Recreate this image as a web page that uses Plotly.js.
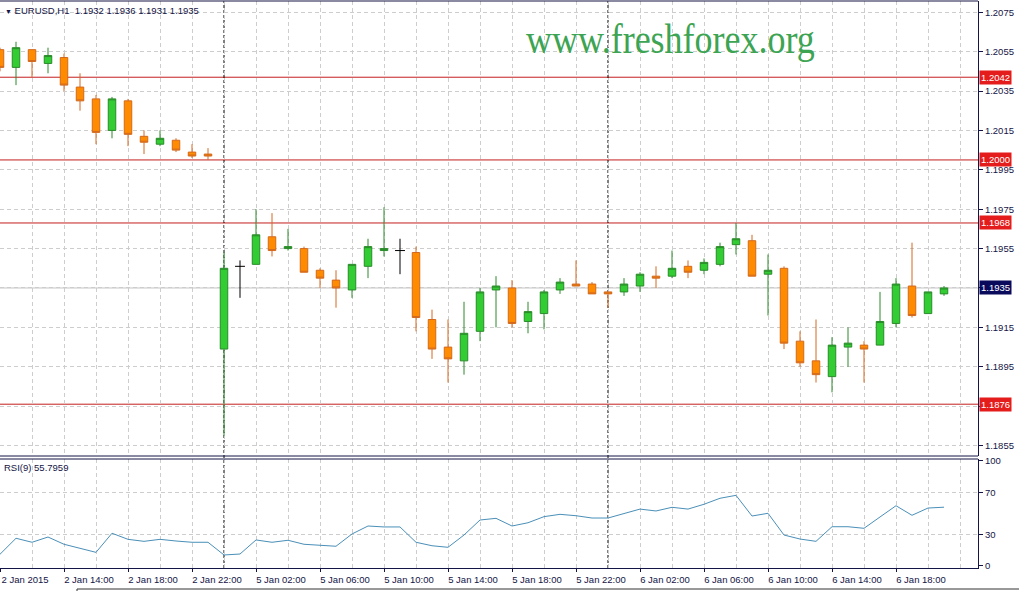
<!DOCTYPE html>
<html><head><meta charset="utf-8">
<script src="https://cdn.plot.ly/plotly-3.0.1.min.js"></script>
<style>html,body{margin:0;padding:0;background:#fff;overflow:hidden}#chart{width:1019px;height:591px}</style>
</head><body><div id="chart"></div>
<script>
const symbol = 'EURUSD,H1';
const times = [
 '2015-01-02 10:00','2015-01-02 11:00','2015-01-02 12:00','2015-01-02 13:00','2015-01-02 14:00','2015-01-02 15:00','2015-01-02 16:00',
 '2015-01-02 17:00','2015-01-02 18:00','2015-01-02 19:00','2015-01-02 20:00','2015-01-02 21:00','2015-01-02 22:00','2015-01-02 23:00',
 '2015-01-05 00:00','2015-01-05 01:00','2015-01-05 02:00','2015-01-05 03:00','2015-01-05 04:00','2015-01-05 05:00','2015-01-05 06:00',
 '2015-01-05 07:00','2015-01-05 08:00','2015-01-05 09:00','2015-01-05 10:00','2015-01-05 11:00','2015-01-05 12:00','2015-01-05 13:00',
 '2015-01-05 14:00','2015-01-05 15:00','2015-01-05 16:00','2015-01-05 17:00','2015-01-05 18:00','2015-01-05 19:00','2015-01-05 20:00',
 '2015-01-05 21:00','2015-01-05 22:00','2015-01-05 23:00',
 '2015-01-06 00:00','2015-01-06 01:00','2015-01-06 02:00','2015-01-06 03:00','2015-01-06 04:00','2015-01-06 05:00','2015-01-06 06:00',
 '2015-01-06 07:00','2015-01-06 08:00','2015-01-06 09:00','2015-01-06 10:00','2015-01-06 11:00','2015-01-06 12:00','2015-01-06 13:00',
 '2015-01-06 14:00','2015-01-06 15:00','2015-01-06 16:00','2015-01-06 17:00','2015-01-06 18:00','2015-01-06 19:00','2015-01-06 20:00',
 '2015-01-06 21:00'];
const open = [1.2056,1.2047,1.2056,1.2049,1.2052,1.2037,1.2031,1.2015,1.2030,1.2012,1.2008,1.2010,1.2004,1.2003,
 1.1904,1.1946,1.1947,1.1961,1.1955,1.1955,1.1944,1.1939,1.1934,1.1946,1.1954,1.1954,1.1953,1.1919,1.1905,1.1898,1.1913,1.1934,1.1935,1.1918,1.1922,1.1934,1.1937,1.1937,
 1.1933,1.1933,1.1936,1.1941,1.1941,1.1946,1.1944,1.1947,1.1957,1.1959,1.1942,1.1945,1.1908,1.1898,1.1890,1.1905,1.1906,1.1906,1.1917,1.1936,1.1922,1.1932];
const high = [1.2057,1.2060,1.2056,1.2057,1.2054,1.2044,1.2033,1.2032,1.2031,1.2015,1.2015,1.2011,1.2008,1.2006,
 1.1953,1.1949,1.1975,1.1973,1.1965,1.1956,1.1945,1.1944,1.1947,1.1960,1.1976,1.1960,1.1956,1.1924,1.1919,1.1928,1.1935,1.1941,1.1939,1.1928,1.1934,1.1940,1.1949,1.1938,
 1.1933,1.1940,1.1943,1.1946,1.1954,1.1949,1.1950,1.1958,1.1968,1.1962,1.1952,1.1946,1.1913,1.1919,1.1910,1.1915,1.1908,1.1933,1.1940,1.1958,1.1933,1.1936];
const low = [1.2045,1.2038,1.2042,1.2044,1.2035,1.2025,1.2008,1.2011,1.2007,1.2003,1.2007,1.2004,1.2001,1.2000,
 1.1860,1.1930,1.1947,1.1951,1.1954,1.1943,1.1935,1.1925,1.1930,1.1940,1.1951,1.1942,1.1913,1.1899,1.1887,1.1891,1.1908,1.1915,1.1915,1.1912,1.1914,1.1932,1.1936,1.1932,
 1.1925,1.1931,1.1933,1.1935,1.1940,1.1940,1.1942,1.1946,1.1952,1.1941,1.1921,1.1904,1.1895,1.1887,1.1882,1.1895,1.1887,1.1906,1.1915,1.1920,1.1922,1.1931];
const close = [1.2047,1.2057,1.2050,1.2053,1.2038,1.2030,1.2014,1.2031,1.2013,1.2009,1.2011,1.2005,1.2002,1.2002,
 1.1945,1.1946,1.1962,1.1954,1.1956,1.1943,1.1940,1.1935,1.1947,1.1956,1.1955,1.1954,1.1920,1.1904,1.1899,1.1912,1.1933,1.1936,1.1917,1.1923,1.1933,1.1938,1.1936,1.1932,
 1.1932,1.1937,1.1942,1.1940,1.1945,1.1943,1.1948,1.1956,1.1960,1.1941,1.1944,1.1907,1.1897,1.1891,1.1906,1.1907,1.1904,1.1918,1.1937,1.1921,1.1933,1.1935];
const rsi = [11,26.2,22.4,27.4,20.5,17,12.8,31,25.2,23.3,25.2,23.6,22.4,22.4,
 10.3,11.2,24.6,22.4,24.3,20.5,19.8,18.6,30.3,37.9,37,37,22.4,19.1,17.6,29.3,43.6,45.2,37.9,41,46.8,49,47.7,45.5,
 45.5,50,54,52.2,55.7,54,58.6,64.3,67.1,47.4,50,29.3,25.5,23.3,37.2,37.2,35.7,46.5,57.2,48.1,55,55.7959];
const rsiPeriod = 9;
const levels = [1.2042, 1.2000, 1.1968, 1.1876];
const priceTicks = [1.1855,1.1875,1.1895,1.1915,1.1935,1.1955,1.1975,1.1995,1.2015,1.2035,1.2055,1.2075];
const rsiTicks = [0,30,70,100];
const rsiGrid = [30,70];
const tickTimes = ['2015-01-02 10:00','2015-01-02 14:00','2015-01-02 18:00','2015-01-02 22:00','2015-01-05 02:00','2015-01-05 06:00',
 '2015-01-05 10:00','2015-01-05 14:00','2015-01-05 18:00','2015-01-05 22:00','2015-01-06 02:00','2015-01-06 06:00','2015-01-06 10:00',
 '2015-01-06 14:00','2015-01-06 18:00'];
const tickLabels = ['2 Jan 2015','2 Jan 14:00','2 Jan 18:00','2 Jan 22:00','5 Jan 02:00','5 Jan 06:00','5 Jan 10:00','5 Jan 14:00',
 '5 Jan 18:00','5 Jan 22:00','6 Jan 02:00','6 Jan 06:00','6 Jan 10:00','6 Jan 14:00','6 Jan 18:00'];
const watermark = 'www.freshforex.org';

const idx = times.map((t, i) => i);
const doji = idx.map(i => open[i] === close[i]);
const pick = (arr, keep) => arr.map((v, i) => keep(i) ? v : null);
const notDoji = i => !doji[i], isDoji = i => doji[i];
const last = times.length - 1;
const separators = idx.filter(i => times[i].endsWith('00:00'));
// price-axis labels that sit under a coloured price box are not drawn (as in the terminal)
const boxed = levels.concat([close[last]]);
const hiddenTick = v => boxed.some(b => Math.abs(b - v) < 0.00035);

const NAVY = '#141446', GRID = '#cdcdcd', GDASH = '4px,3px';
const FONT = 'Liberation Sans, Arial, sans-serif';

const candles = {
  type: 'candlestick', x: idx,
  open: pick(open, notDoji), high: pick(high, notDoji), low: pick(low, notDoji), close: pick(close, notDoji),
  increasing: {fillcolor: '#32CD32', line: {color: '#2a8a2a', width: 1}},
  decreasing: {fillcolor: '#FF8C00', line: {color: '#D2691E', width: 1}},
  whiskerwidth: 0, xaxis: 'x', yaxis: 'y', hoverinfo: 'skip'
};
const dojis = {
  type: 'ohlc', x: idx,
  open: pick(open, isDoji), high: pick(high, isDoji), low: pick(low, isDoji), close: pick(close, isDoji),
  increasing: {line: {color: '#000', width: 1}}, decreasing: {line: {color: '#000', width: 1}},
  tickwidth: 0.31, xaxis: 'x', yaxis: 'y', hoverinfo: 'skip'
};
const rsiLine = {
  type: 'scatter', mode: 'lines', x: idx, y: rsi, xaxis: 'x', yaxis: 'y2',
  line: {color: '#4a8fb8', width: 1}, hoverinfo: 'skip'
};

const shapes = [];
shapes.push({type: 'line', xref: 'paper', x0: 0, x1: 1, yref: 'y', y0: close[last], y1: close[last],
  line: {color: '#c4c4c4', width: 1}, layer: 'between'});
levels.forEach(l => shapes.push({type: 'line', xref: 'paper', x0: 0, x1: 1, yref: 'y', y0: l, y1: l,
  line: {color: '#c41e1e', width: 1}, layer: 'between'}));
separators.forEach(s => shapes.push({type: 'line', xref: 'x', x0: s, x1: s, yref: 'paper', y0: 0, y1: 1,
  line: {color: '#000', width: 1, dash: '3px,2px'}, layer: 'between'}));
shapes.push({type: 'line', xref: 'paper', x0: 0, x1: 1, yref: 'y domain', y0: 1, y1: 1, line: {color: NAVY, width: 1}});
shapes.push({type: 'line', xref: 'paper', x0: 0, x1: 1, yref: 'y domain', y0: 0, y1: 0, line: {color: NAVY, width: 1}});
shapes.push({type: 'line', xref: 'paper', x0: 0, x1: 1, yref: 'y2 domain', y0: 1, y1: 1, line: {color: NAVY, width: 1}});
shapes.push({type: 'line', xref: 'paper', x0: 77/978, x1: 1019/978, yref: 'paper', y0: -21/567, y1: -21/567, line: {color: '#333', width: 1}});
shapes.push({type: 'line', xref: 'paper', x0: 77/978, x1: 77/978, yref: 'paper', y0: -21/567, y1: -30/567, line: {color: '#333', width: 1}});

const annotations = [];
annotations.push({xref: 'paper', yref: 'paper', x: 0.003, y: 0.984, xanchor: 'left', yanchor: 'middle', showarrow: false,
  text: '<span style="font-size:7px">▼</span> ' + symbol + '  ' + [open[last], high[last], low[last], close[last]].map(v => v.toFixed(4)).join(' '),
  font: {family: FONT, size: 9.5, color: NAVY}});
annotations.push({xref: 'paper', yref: 'paper', x: 0.002, y: 0.1764, xanchor: 'left', yanchor: 'middle', showarrow: false,
  text: 'RSI(' + rsiPeriod + ') ' + rsi[last].toFixed(4), font: {family: FONT, size: 9.5, color: NAVY}});
annotations.push({xref: 'paper', yref: 'paper', x: 0.6856, y: 0.9321, xanchor: 'center', yanchor: 'middle', showarrow: false,
  text: watermark, font: {family: 'Liberation Serif, Times New Roman, serif', size: 36, color: '#3ca452'}});
levels.forEach(l => annotations.push({xref: 'paper', yref: 'y', x: 1, y: l, xanchor: 'left', yanchor: 'middle', xshift: 1,
  showarrow: false, text: l.toFixed(4), bgcolor: '#e51c1c', borderpad: 1, font: {family: FONT, size: 9.5, color: '#fff'}}));
annotations.push({xref: 'paper', yref: 'y', x: 1, y: close[last], xanchor: 'left', yanchor: 'middle', xshift: 1,
  showarrow: false, text: close[last].toFixed(4), bgcolor: '#0a0a5c', borderpad: 1, font: {family: FONT, size: 9.5, color: '#fff'}});

const layout = {
  width: 1019, height: 591, margin: {l: 0, r: 41, t: 1, b: 23, pad: 0},
  paper_bgcolor: '#fff', plot_bgcolor: '#fff', showlegend: false, hovermode: false, boxgap: 0.33,
  font: {family: FONT, size: 9.5, color: NAVY},
  xaxis: {
    type: 'linear', range: [0, 978/16], anchor: 'y2', fixedrange: true,
    rangeslider: {visible: false},
    tickmode: 'array', tickvals: tickTimes.map(t => times.indexOf(t)), ticktext: tickLabels,
    ticks: 'outside', ticklen: 3, tickcolor: NAVY, ticklabelshift: 25,
    showline: true, linecolor: NAVY, linewidth: 1, zeroline: false,
    showgrid: true, gridcolor: GRID, gridwidth: 1, griddash: GDASH,
    minor: {tick0: 0, dtick: 2, showgrid: true, gridcolor: GRID, gridwidth: 1, griddash: GDASH, ticks: ''}
  },
  yaxis: {
    domain: [112/567, 1], range: [1.18497, 1.20807], side: 'right', anchor: 'x', fixedrange: true,
    tickmode: 'array', tickvals: priceTicks,
    ticktext: priceTicks.map(v => hiddenTick(v) ? '' : v.toFixed(4)),
    ticks: 'outside', ticklen: 4, tickcolor: NAVY,
    showline: true, linecolor: NAVY, linewidth: 1, zeroline: false,
    showgrid: true, gridcolor: GRID, gridwidth: 1, griddash: GDASH
  },
  yaxis2: {
    domain: [0, 109/567], range: [-2.1, 101.7], side: 'right', anchor: 'x', fixedrange: true,
    tickmode: 'array', tickvals: rsiTicks, ticktext: rsiTicks.map(String),
    ticks: 'outside', ticklen: 4, tickcolor: NAVY,
    showline: true, linecolor: NAVY, linewidth: 1, zeroline: false, showgrid: false,
    minor: {tickmode: 'array', tickvals: rsiGrid, showgrid: true, gridcolor: GRID, gridwidth: 1, griddash: GDASH, ticks: ''}
  },
  shapes: shapes, annotations: annotations
};

Plotly.newPlot('chart', [candles, dojis, rsiLine], layout, {staticPlot: true, displayModeBar: false}).then(() => {
  document.querySelectorAll('.annotation-text').forEach(t => {
    if (t.textContent === watermark) {
      const b = t.getBBox();
      const cy = b.y + b.height / 2;
      t.setAttribute('transform', 'translate(0,' + cy + ') scale(1,1.17) translate(0,' + (-cy) + ')');
    }
  });
});
</script>
</body></html>
